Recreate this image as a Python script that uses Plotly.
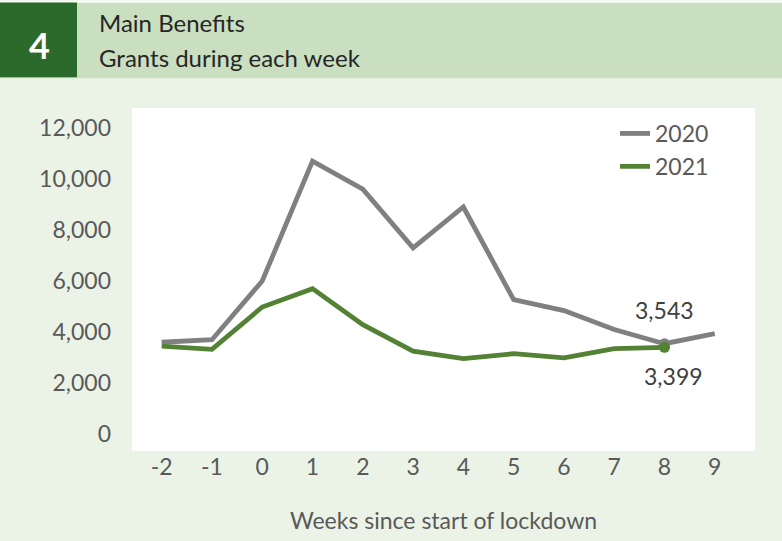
import plotly.graph_objects as go

weeks = [-2, -1, 0, 1, 2, 3, 4, 5, 6, 7, 8, 9]
grants_2020 = [3600, 3700, 6000, 10700, 9600, 7300, 8900, 5270, 4840, 4100, 3543, 3940]
weeks_2021 = [-2, -1, 0, 1, 2, 3, 4, 5, 6, 7, 8]
grants_2021 = [3450, 3320, 4980, 5700, 4290, 3250, 2960, 3150, 2990, 3350, 3399]
y_ticks = [0, 2000, 4000, 6000, 8000, 10000, 12000]
y_tick_labels = ["0", "2,000", "4,000", "6,000", "8,000", "10,000", "12,000"]

W, H = 782, 541
L, R, T, B = 132, 27, 108, 88
PW, PH = W - L - R, H - T - B

def px(x):
    return (x - L) / PW

def py(y):
    return (H - B - y) / PH

GRAY = "#808080"
GREEN = "#548235"
TXT = "#595959"
FONT = "Lato"

fig = go.Figure()
fig.add_trace(go.Scatter(x=weeks, y=grants_2020, mode="lines", name="2020",
                         line=dict(color=GRAY, width=4.8)))
fig.add_trace(go.Scatter(x=weeks_2021, y=grants_2021, mode="lines", name="2021",
                         line=dict(color=GREEN, width=4.8)))
fig.add_trace(go.Scatter(x=[weeks[10]], y=[grants_2020[10]], mode="markers",
                         marker=dict(color=GRAY, size=11), showlegend=False))
fig.add_trace(go.Scatter(x=[weeks_2021[10]], y=[grants_2021[10]], mode="markers",
                         marker=dict(color=GREEN, size=11), showlegend=False))

fig.add_annotation(x=weeks[10], y=grants_2020[10], text=f"{grants_2020[10]:,}",
                   showarrow=False, yshift=34, font=dict(family=FONT, size=23, color="#404040"))
fig.add_annotation(x=weeks_2021[10], y=grants_2021[10], text=f"{grants_2021[10]:,}",
                   showarrow=False, yshift=-29, xshift=9, font=dict(family=FONT, size=23, color="#404040"))

shapes = [
    dict(type="rect", xref="paper", yref="paper", x0=px(0), x1=px(W), y0=py(78), y1=py(2),
         fillcolor="#c9dfc0", line=dict(width=0), layer="below"),
    dict(type="rect", xref="paper", yref="paper", x0=px(0), x1=px(W), y0=py(2), y1=py(0),
         fillcolor="white", line=dict(width=0), layer="below"),
    dict(type="rect", xref="paper", yref="paper", x0=px(0), x1=px(77), y0=py(77), y1=py(2),
         fillcolor="#2b6a2b", line=dict(width=0), layer="below"),
]

fig.add_annotation(xref="paper", yref="paper", x=px(39), y=py(45), text="<b>4</b>",
                   showarrow=False, font=dict(family=FONT, size=36, color="white"),
                   xanchor="center", yanchor="middle")
fig.add_annotation(xref="paper", yref="paper", x=px(97), y=py(22), text="Main Benefits",
                   showarrow=False, font=dict(family=FONT, size=24, color="#262626"),
                   xanchor="left", yanchor="middle")
fig.add_annotation(xref="paper", yref="paper", x=px(97), y=py(57), text="Grants during each week",
                   showarrow=False, font=dict(family=FONT, size=24, color="#262626"),
                   xanchor="left", yanchor="middle")

fig.update_layout(
    width=W, height=H,
    margin=dict(l=L, r=R, t=T, b=B, pad=0),
    paper_bgcolor="#ebf3e7",
    plot_bgcolor="white",
    shapes=shapes,
    font=dict(family=FONT, size=23, color=TXT),
    legend=dict(x=px(615), y=py(112), xanchor="left", yanchor="top",
                bgcolor="rgba(0,0,0,0)", font=dict(family=FONT, size=23, color=TXT),
                tracegroupgap=0),
    xaxis=dict(range=[-2.59, 9.8], tickvals=weeks, ticktext=[str(w) for w in weeks],
               showgrid=False, zeroline=False, showline=False, ticks="",
               title=dict(text="Weeks since start of lockdown", standoff=33,
                          font=dict(family=FONT, size=23, color=TXT)),
               fixedrange=True),
    yaxis=dict(range=[-662, 12779], tickvals=y_ticks, ticktext=y_tick_labels,
               showgrid=False, zeroline=False, showline=False, ticks="",
               ticklabelstandoff=20, fixedrange=True),
    showlegend=True,
)

fig.write_html("out.html", config={"displayModeBar": False},
               post_script="document.body.style.margin='0';document.body.style.overflow='hidden';")
